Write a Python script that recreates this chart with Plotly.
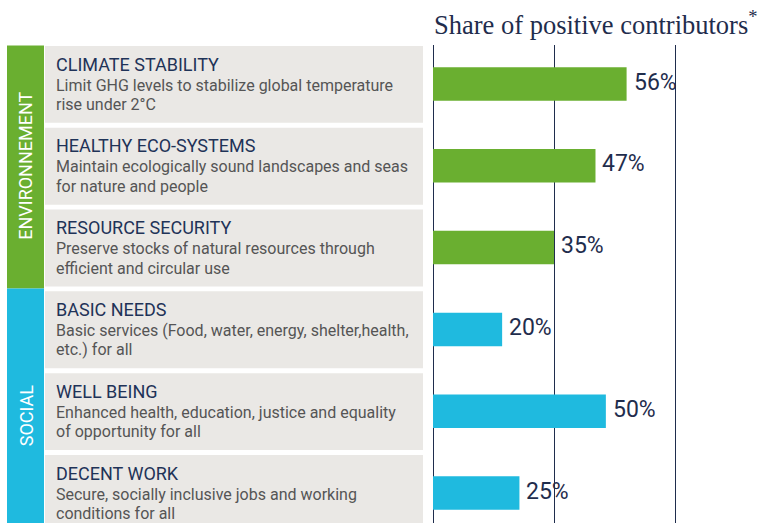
import plotly.graph_objects as go

# ---- data ----
titles = ["CLIMATE STABILITY", "HEALTHY ECO-SYSTEMS", "RESOURCE SECURITY",
          "BASIC NEEDS", "WELL BEING", "DECENT WORK"]
descriptions = [
    "Limit GHG levels to stabilize global temperature<br>rise under 2°C",
    "Maintain ecologically sound landscapes and seas<br>for nature and people",
    "Preserve stocks of natural resources through<br>efficient and circular use",
    "Basic services (Food, water, energy, shelter,health,<br>etc.) for all",
    "Enhanced health, education, justice and equality<br>of opportunity for all",
    "Secure, socially inclusive jobs and working<br>conditions for all",
]
groups = ["ENVIRONNEMENT", "ENVIRONNEMENT", "ENVIRONNEMENT", "SOCIAL", "SOCIAL", "SOCIAL"]
shares = [56, 47, 35, 20, 50, 25]
chart_title = "Share of positive contributors<sup>*</sup>"

# ---- styles ----
W, H = 760, 523
GREEN = "#6aaf30"
BLUE = "#1fbadf"
GREY = "#eae8e5"
NAVY = "#1f2d4d"
group_colors = {"ENVIRONNEMENT": GREEN, "SOCIAL": BLUE}
FONT = "Roboto"

n = len(titles)
ypos = list(range(n))
colors = [group_colors[g] for g in groups]

fig = go.Figure()
fig.add_trace(go.Bar(
    x=shares, y=ypos, orientation="h",
    marker=dict(color=colors, line=dict(width=0)),
    width=0.41,
    hoverinfo="skip",
))

px = lambda p: p / W

shapes = []
for i in ypos:
    shapes.append(dict(type="rect", xref="paper", yref="y",
                       x0=px(45), x1=px(423), y0=i - 0.465, y1=i + 0.475,
                       fillcolor=GREY, line=dict(width=0), layer="below"))

grp_order = []
for g in groups:
    if g not in grp_order:
        grp_order.append(g)
annotations = []
for g in grp_order:
    idx = [i for i, gg in enumerate(groups) if gg == g]
    y0 = min(idx) - 0.47 if min(idx) == 0 else min(idx) - 0.5
    y1 = max(idx) + 0.5 if max(idx) < n - 1 else max(idx) + 0.6
    shapes.append(dict(type="rect", xref="paper", yref="y",
                       x0=px(7), x1=px(44), y0=y0, y1=y1,
                       fillcolor=group_colors[g], line=dict(width=0), layer="below"))
    annotations.append(dict(xref="paper", yref="y", x=px(26),
                            y=sum(idx) / len(idx) + (0.05 if g == "SOCIAL" else 0),
                            text=g, textangle=-90, showarrow=False,
                            font=dict(family=FONT, size=18, color="white"),
                            xanchor="center", yanchor="middle"))

for i in ypos:
    annotations.append(dict(xref="paper", yref="y", x=px(54), y=i, yshift=20,
                            text=titles[i], showarrow=False, xanchor="left", yanchor="middle",
                            font=dict(family=FONT, size=18, color="#1f3358")))
    for k, line in enumerate(descriptions[i].split("<br>")):
        annotations.append(dict(xref="paper", yref="y", x=px(54), y=i, yshift=-1 - 19.5 * k,
                                text=line, showarrow=False, xanchor="left", yanchor="middle",
                                font=dict(family=FONT, size=16, color="#555555")))
    # value labels
    annotations.append(dict(xref="x", yref="y", x=shares[i], y=i, xshift=5, yshift=2,
                            text=f"{shares[i]}%", showarrow=False,
                            xanchor="left", yanchor="middle",
                            font=dict(family=FONT, size=23, color=NAVY)))

annotations.append(dict(xref="paper", yref="paper", x=px(432), y=1 - 23 / H,
                        text=chart_title, showarrow=False, xanchor="left", yanchor="middle",
                        font=dict(family="Liberation Serif", size=26.5, color=NAVY)))

top_px, bot_px = 45, 523
pitch = 81.8
y_top = -(84 - top_px) / pitch
y_bot = y_top + (bot_px - top_px) / pitch

x_left = 433
xmax = (W - x_left) / (121 / 35)

fig.update_layout(
    width=W, height=H,
    margin=dict(l=0, r=0, t=0, b=0),
    paper_bgcolor="white", plot_bgcolor="white",
    showlegend=False,
    shapes=shapes, annotations=annotations,
    xaxis=dict(domain=[x_left / W, 1], range=[0, xmax], tickvals=[0, 35, 70],
               showgrid=True, gridcolor=NAVY, gridwidth=1.3,
               zeroline=True, zerolinecolor=NAVY, zerolinewidth=1.3,
               showticklabels=False, ticks="", showline=False, fixedrange=True),
    yaxis=dict(domain=[0, 1 - top_px / H], range=[y_bot, y_top],
               showgrid=False, zeroline=False, showticklabels=False, ticks="",
               showline=False, fixedrange=True),
)

fig.write_html("out.html", config={"displayModeBar": False},
               post_script="document.body.style.margin='0';document.body.style.overflow='hidden';")
